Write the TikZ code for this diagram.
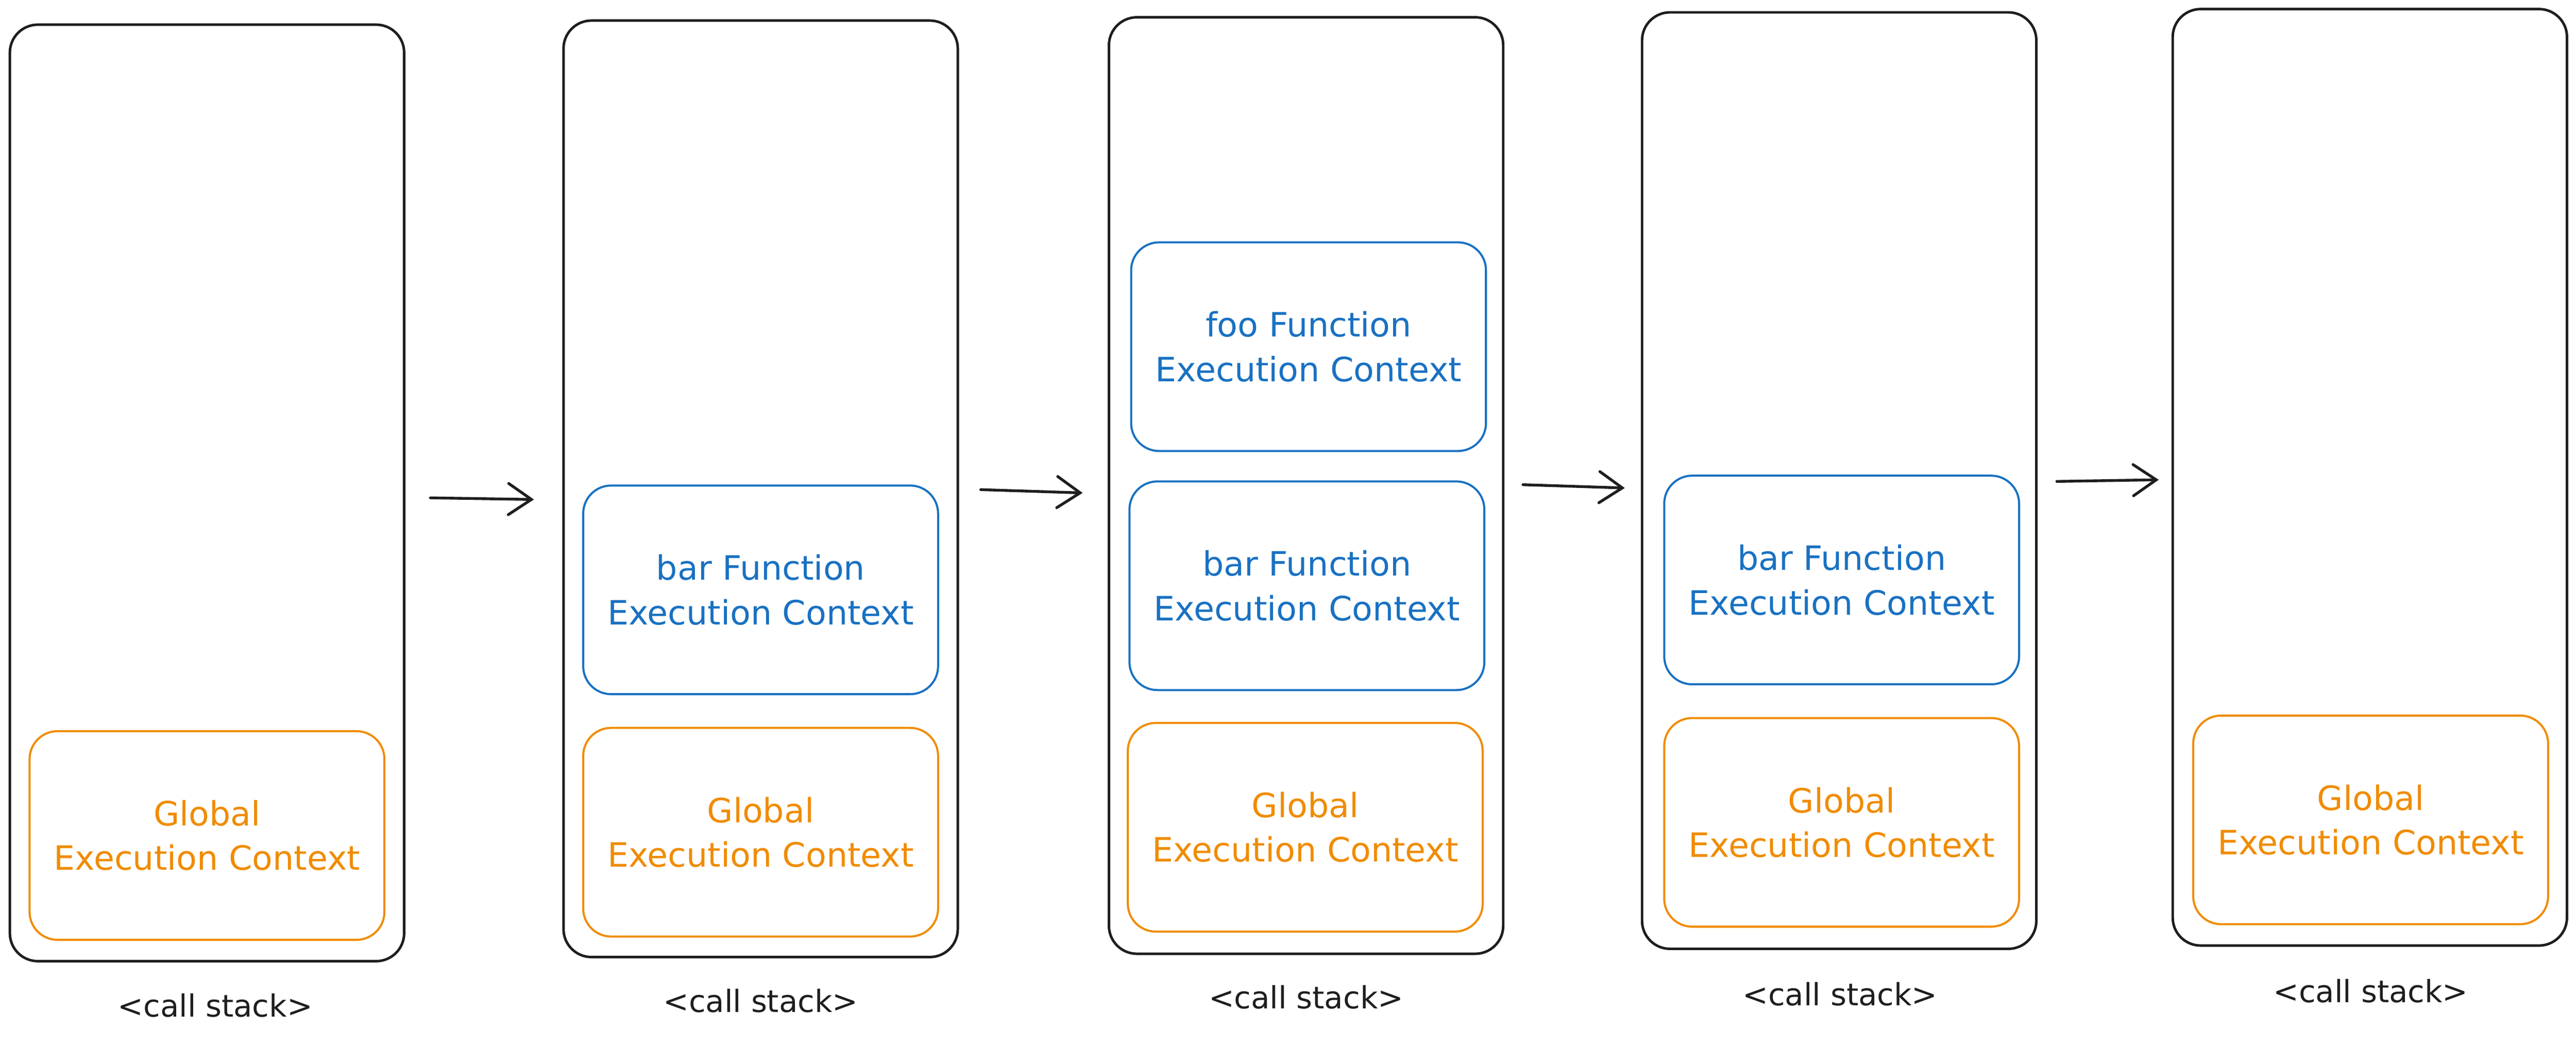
\documentclass[tikz,border=0pt]{standalone}
\usepackage{fontspec}
\setmainfont{DejaVu Sans}
\usetikzlibrary{arrows.meta}
\definecolor{inkblack}{HTML}{1E1E1E}
\definecolor{exorange}{HTML}{F08C00}
\definecolor{exblue}{HTML}{1971C2}
\begin{document}
\begin{tikzpicture}[x=0.1cm,y=-0.1cm,
  stackbox/.style={draw=inkblack, line width=4.4pt, rounded corners=1.7cm,
    minimum width=24cm, minimum height=57cm, inner sep=0pt},
  ctxbox/.style={line width=3.6pt, rounded corners=1.7cm,
    minimum width=21.6cm, minimum height=12.7cm, inner sep=0pt, align=center,
    font=\fontsize{58}{77}\selectfont},
  globalbox/.style={ctxbox, draw=exorange, text=exorange},
  funcbox/.style={ctxbox, draw=exblue, text=exblue},
  stacklabel/.style={text=inkblack, font=\fontsize{53}{60}\selectfont, inner sep=0pt},
  arr/.style={draw=inkblack, line width=4.8pt, line cap=round,
    -{Straight Barb[length=1.4cm, width=1.9cm, line cap=round]}}
]
\useasboundingbox[fill=white] (0,0) rectangle (1568,637);

% stacks
\node[stackbox] (s1) at (126,300) {};
\node[stackbox] (s2) at (463,297.5) {};
\node[stackbox] (s3) at (795,295.5) {};
\node[stackbox] (s4) at (1119.5,292.5) {};
\node[stackbox] (s5) at (1442.5,290.5) {};

% contexts
\node[globalbox] (g1) at (126,508.5) {Global\\Execution Context};

\node[funcbox] (b2) at (463,359) {bar Function\\Execution Context};
\node[globalbox] (g2) at (463,506.5) {Global\\Execution Context};

\node[funcbox] (f3) at (796.5,211) {foo Function\\Execution Context};
\node[funcbox] (b3) at (795.5,356.5) {bar Function\\Execution Context};
\node[globalbox] (g3) at (794.5,503.5) {Global\\Execution Context};

\node[funcbox] (b4) at (1121,353) {bar Function\\Execution Context};
\node[globalbox] (g4) at (1121,500.5) {Global\\Execution Context};

\node[globalbox] (g5) at (1443,499) {Global\\Execution Context};

% labels
\node[stacklabel] (l1) at (131,612) {<call stack>};
\node[stacklabel] (l2) at (463,609) {<call stack>};
\node[stacklabel] (l3) at (795,607) {<call stack>};
\node[stacklabel] (l4) at (1120,605) {<call stack>};
\node[stacklabel] (l5) at (1443,603) {<call stack>};

% arrows
\coordinate (a1s) at (262,303); \coordinate (a1e) at (325,304);
\coordinate (a2s) at (597,298); \coordinate (a2e) at (659,300);
\coordinate (a3s) at (927,295); \coordinate (a3e) at (989,297);
\coordinate (a4s) at (1252,293); \coordinate (a4e) at (1314,292);
\draw[arr] (a1s) -- (a1e);
\draw[arr] (a2s) -- (a2e);
\draw[arr] (a3s) -- (a3e);
\draw[arr] (a4s) -- (a4e);
\end{tikzpicture}
\end{document}
